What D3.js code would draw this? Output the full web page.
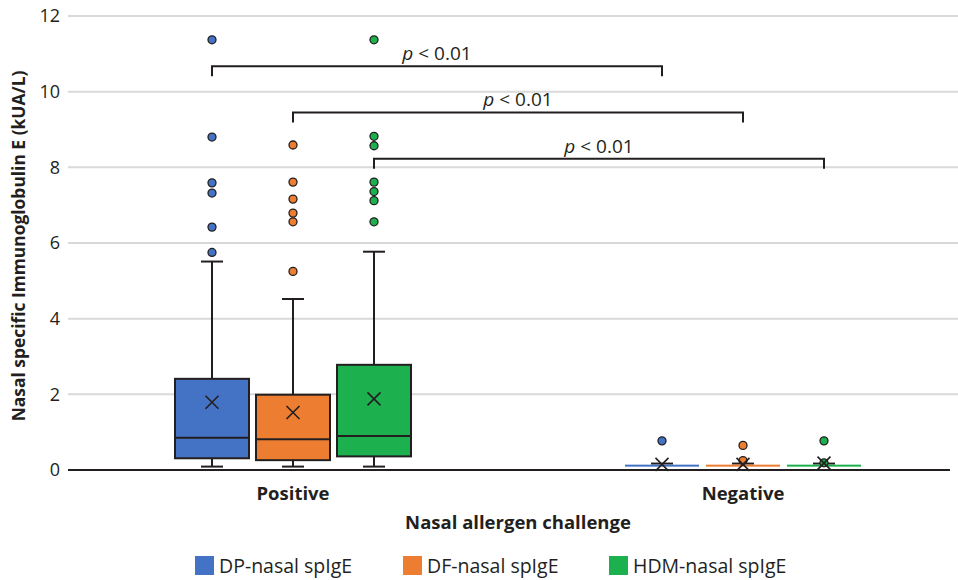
<!DOCTYPE html>
<html>
<head>
<meta charset="utf-8">
<script src="https://cdn.jsdelivr.net/npm/d3@7"></script>
<style>
  body { margin: 0; background: #fff; }
  svg { display: block; font-family: "Open Sans", "Noto Sans", sans-serif; }
</style>
</head>
<body>
<div id="container"></div>
<script>
// groups on the x axis and the three series inside each group
const groups = ["Positive", "Negative"];
const series = ["DP-nasal spIgE", "DF-nasal spIgE", "HDM-nasal spIgE"];
const colors = ["#4472C4", "#ED7D31", "#1DB04F"];
const yTicks = [0, 2, 4, 6, 8, 10, 12];

// box stats, one row per group, one value per series
const whiskerLow  = [[0.09, 0.09, 0.09], [0.10, 0.10, 0.10]];
const q1Values    = [[0.31, 0.26, 0.36], [0.10, 0.10, 0.10]];
const medians     = [[0.85, 0.81, 0.90], [0.11, 0.11, 0.11]];
const q3Values    = [[2.41, 1.99, 2.78], [0.13, 0.13, 0.13]];
const whiskerHigh = [[5.51, 4.52, 5.77], [0.17, 0.17, 0.17]];
const means       = [[1.79, 1.52, 1.88], [0.15, 0.15, 0.18]];
const outliers = [
  [[11.37, 8.80, 7.59, 7.32, 6.42, 5.75],
   [8.59, 7.61, 7.16, 6.79, 6.56, 5.25],
   [11.37, 8.82, 8.57, 7.61, 7.36, 7.12, 6.56]],
  [[0.77], [0.25, 0.65], [0.19, 0.77]]
];

// significance brackets: series index, y level
const bracketSeries = [0, 1, 2];
const bracketLevels = [10.67, 9.45, 8.23];
const bracketLabel = "p < 0.01";

const width = 958, height = 580;
const padLeft = 68, padTop = 16, padBottom = 470;

const svg = d3.select("#container").append("svg")
  .attr("width", width)
  .attr("height", height);

const y = d3.scaleLinear().domain([0, 12]).range([padBottom, padTop]);
const x = d3.scaleBand().domain(groups).range([padLeft, 968]);
const sub = d3.scaleBand().domain(d3.range(series.length))
  .range([-121.5, 121.5]).paddingInner(7 / 81).paddingOuter(3.5 / 81);

// gridlines + tick labels
const grid = svg.append("g");
grid.selectAll("line").data(yTicks.filter(d => d > 0)).join("line")
  .attr("x1", padLeft).attr("x2", width)
  .attr("y1", d => y(d)).attr("y2", d => y(d))
  .attr("stroke", "#d9d9d9").attr("stroke-width", 2);
grid.selectAll("text").data(yTicks).join("text")
  .attr("x", padLeft - 8).attr("y", d => y(d)).attr("dy", "0.35em")
  .attr("text-anchor", "end").attr("font-size", 18).attr("fill", "#231f20")
  .text(d => d);

// baseline
svg.append("line")
  .attr("x1", padLeft).attr("x2", 950)
  .attr("y1", y(0)).attr("y2", y(0))
  .attr("stroke", "#231f20").attr("stroke-width", 2);

// boxes
const boxes = [];
groups.forEach((g, gi) => {
  series.forEach((s, si) => {
    boxes.push({
      gi, si,
      cx: x(g) + x.bandwidth() / 2 + sub(si) + sub.bandwidth() / 2,
      lo: whiskerLow[gi][si], q1: q1Values[gi][si], med: medians[gi][si],
      q3: q3Values[gi][si], hi: whiskerHigh[gi][si], mean: means[gi][si],
      out: outliers[gi][si]
    });
  });
});

const bw = sub.bandwidth();
const capW = 22;
const ink = "#231f20";

const bg = svg.append("g").selectAll("g").data(boxes).join("g");

bg.each(function(d) {
  const g = d3.select(this);
  const boxH = y(d.q1) - y(d.q3);
  // whiskers
  if (d.hi > d.q3) {
    g.append("line").attr("x1", d.cx).attr("x2", d.cx)
      .attr("y1", y(d.q3)).attr("y2", y(d.hi))
      .attr("stroke", ink).attr("stroke-width", 2);
    g.append("line").attr("x1", d.cx - capW / 2).attr("x2", d.cx + capW / 2)
      .attr("y1", y(d.hi)).attr("y2", y(d.hi))
      .attr("stroke", ink).attr("stroke-width", 2);
  }
  if (d.lo < d.q1) {
    g.append("line").attr("x1", d.cx).attr("x2", d.cx)
      .attr("y1", y(d.q1)).attr("y2", y(d.lo))
      .attr("stroke", ink).attr("stroke-width", 2);
    g.append("line").attr("x1", d.cx - capW / 2).attr("x2", d.cx + capW / 2)
      .attr("y1", y(d.lo)).attr("y2", y(d.lo))
      .attr("stroke", ink).attr("stroke-width", 2);
  }
  if (boxH >= 3) {
    g.append("rect")
      .attr("x", d.cx - bw / 2).attr("y", y(d.q3))
      .attr("width", bw).attr("height", boxH)
      .attr("fill", colors[d.si]).attr("stroke", ink).attr("stroke-width", 2);
    g.append("line").attr("x1", d.cx - bw / 2).attr("x2", d.cx + bw / 2)
      .attr("y1", y(d.med)).attr("y2", y(d.med))
      .attr("stroke", ink).attr("stroke-width", 2);
  } else {
    // collapsed box, just a coloured bar
    const mid = (y(d.q1) + y(d.q3)) / 2;
    g.append("rect")
      .attr("x", d.cx - bw / 2).attr("y", mid - 1)
      .attr("width", bw).attr("height", 2)
      .attr("fill", colors[d.si]);
  }
  // outliers
  g.selectAll("circle").data(d.out).join("circle")
    .attr("cx", d.cx).attr("cy", v => y(v)).attr("r", 4)
    .attr("fill", colors[d.si]).attr("stroke", ink).attr("stroke-width", 1.3);
  // mean marker
  const m = 6.5, my = y(d.mean);
  g.append("path")
    .attr("d", `M${d.cx - m},${my - m}L${d.cx + m},${my + m}M${d.cx - m},${my + m}L${d.cx + m},${my - m}`)
    .attr("stroke", ink).attr("stroke-width", 1.6).attr("fill", "none");
});

// brackets
const arm = 10;
const br = svg.append("g");
bracketSeries.forEach((si, i) => {
  const x1 = boxes.find(b => b.gi === 0 && b.si === si).cx;
  const x2 = boxes.find(b => b.gi === 1 && b.si === si).cx;
  const by = y(bracketLevels[i]);
  br.append("path")
    .attr("d", `M${x1},${by + arm}V${by}H${x2}V${by + arm}`)
    .attr("fill", "none").attr("stroke", ink).attr("stroke-width", 2);
  const t = br.append("text")
    .attr("x", (x1 + x2) / 2).attr("y", by - 6)
    .attr("text-anchor", "middle").attr("font-size", 19).attr("fill", ink);
  const parts = bracketLabel.split(" ");
  t.append("tspan").attr("font-style", "italic").text(parts[0]);
  t.append("tspan").text(" " + parts.slice(1).join(" "));
});

// x labels
svg.append("g").selectAll("text").data(groups).join("text")
  .attr("x", d => x(d) + x.bandwidth() / 2).attr("y", 500)
  .attr("text-anchor", "middle").attr("font-size", 18.5).attr("font-weight", "bold")
  .attr("fill", ink).text(d => d);

svg.append("text")
  .attr("x", 518).attr("y", 529)
  .attr("text-anchor", "middle").attr("font-size", 18.5).attr("font-weight", "bold")
  .attr("fill", ink).text("Nasal allergen challenge");

svg.append("text")
  .attr("transform", `translate(25,246) rotate(-90)`)
  .attr("text-anchor", "middle").attr("font-size", 17.4).attr("font-weight", "bold")
  .attr("fill", ink).text("Nasal specific Immunoglobulin E (kUA/L)");

// legend
const legX = [195, 403, 609];
const leg = svg.append("g").selectAll("g").data(series).join("g")
  .attr("transform", (d, i) => `translate(${legX[i]},556)`);
leg.append("rect").attr("width", 19).attr("height", 19)
  .attr("fill", (d, i) => colors[i]);
leg.append("text").attr("x", 24).attr("y", 16.5)
  .attr("font-size", 19.5).attr("fill", ink).text(d => d);
</script>
</body>
</html>
